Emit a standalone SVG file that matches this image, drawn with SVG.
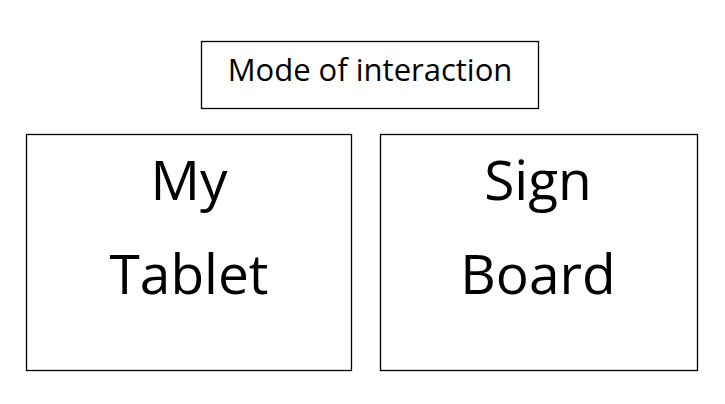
<svg xmlns="http://www.w3.org/2000/svg" width="725" height="404" viewBox="0 0 725 404">
<style>
.box{fill:#fff;stroke:#000;stroke-width:1.3}
.t{font-family:"Open Sans","Liberation Sans",sans-serif;fill:#000;text-anchor:middle}
.big{font-size:55px}
.title{font-size:31px}
</style>
<rect width="725" height="404" fill="#fff"/>
<g id="mode">
<rect class="box" x="201.5" y="41.5" width="337" height="67"/>
<text class="t title" x="370" y="81">Mode of interaction</text>
</g>
<g id="tablet">
<rect class="box" x="26.5" y="134.5" width="325" height="236"/>
<text class="t big" x="189" y="200">My</text>
<text class="t big" x="189" y="294">Tablet</text>
</g>
<g id="signboard">
<rect class="box" x="380.5" y="134.5" width="317" height="236"/>
<text class="t big" x="538" y="200">Sign</text>
<text class="t big" x="538" y="294">Board</text>
</g>
<g id="connectors"></g>
</svg>
